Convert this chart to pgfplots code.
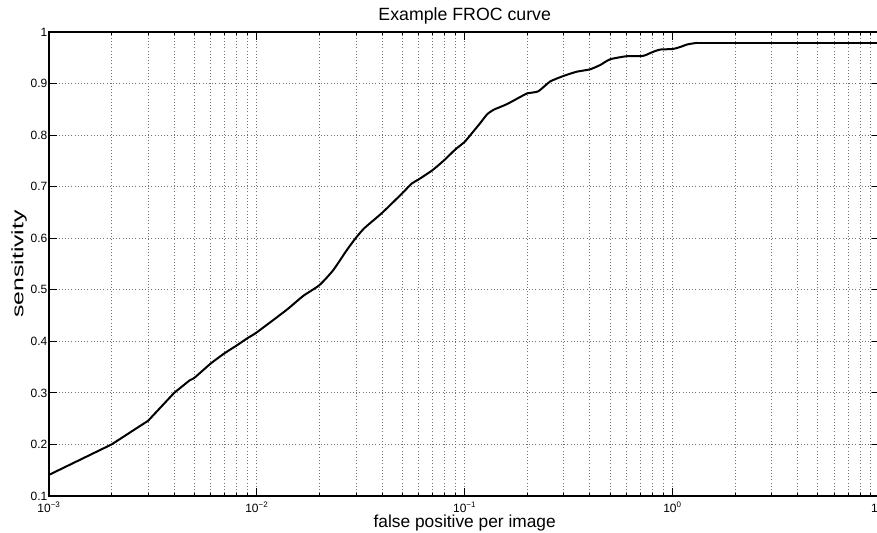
\documentclass[border=0pt]{standalone}
\usepackage{fontspec}
\setmainfont{Liberation Sans}
\usepackage{pgfplots}
\pgfplotsset{compat=1.18}
\begin{document}
\begin{tikzpicture}
\useasboundingbox (-36.75pt,-27pt) rectangle (621pt,372pt);
\clip (-36.75pt,-27pt) rectangle (621pt,372pt);
\begin{axis}[
  at={(0pt,0pt)}, anchor=south west,
  scale only axis, width=623.55pt, height=348pt,
  xmode=log, log basis x=10,
  xmin=1e-3, xmax=10, ymin=0.1, ymax=1,
  xtick={1e-3,1e-2,1e-1,1,10},
  xticklabels={10\textsuperscript{\char"2212 3},10\textsuperscript{\char"2212 2},10\textsuperscript{\char"2212 1},10\textsuperscript{0},10\textsuperscript{1}},
  minor xtick={2e-3,3e-3,4e-3,5e-3,6e-3,7e-3,8e-3,9e-3,
               2e-2,3e-2,4e-2,5e-2,6e-2,7e-2,8e-2,9e-2,
               2e-1,3e-1,4e-1,5e-1,6e-1,7e-1,8e-1,9e-1,
               2,3,4,5,6,7,8,9},
  ytick={0.1,0.2,0.3,0.4,0.5,0.6,0.7,0.8,0.9,1},
  xmajorgrids=true, xminorgrids=true, ymajorgrids=true,
  major grid style={dotted, black!55, line width=0.6pt},
  minor grid style={dotted, black!55, line width=0.6pt},
  tick style={black, line width=0.6pt},
  major tick length=6pt, minor tick length=2.5pt,
  tick align=inside,
  axis line style={black, line width=1.3pt},
  xticklabel style={font=\fontsize{9pt}{10pt}\selectfont, anchor=base, yshift=-12.5pt},
  yticklabel style={font=\fontsize{9pt}{10pt}\selectfont, anchor=east, inner xsep=1pt,
    /pgf/number format/fixed, /pgf/number format/precision=1,
    /pgf/number format/assume math mode=true},
  title={Example FROC curve},
  every axis title/.style={at={(axis description cs:0.5,1.0244)}, anchor=base,
    font=\fontsize{13.3pt}{15pt}\selectfont},
  xlabel={false positive per image},
  every axis x label/.style={at={(axis description cs:0.5,-0.0685)}, anchor=base,
    font=\fontsize{13pt}{15pt}\selectfont},
  ylabel={\scalebox{1.5}[1]{\fontsize{12.4pt}{14pt}\selectfont sensitivity}},
  every axis y label/.style={at={(axis description cs:-0.0361,0.5)}, anchor=center, rotate=90},
]
\addplot[black, line width=1.5pt, mark=none, line join=round] coordinates {
(0.001,0.141) (0.002,0.200) (0.003,0.246) (0.004,0.300) (0.00477,0.325)
};
\addplot[black, line width=1.5pt, mark=none, line join=round, smooth, tension=0.35] coordinates {
(0.00477,0.325)
(0.005,0.329) (0.006,0.357) (0.007,0.377) (0.008,0.392) (0.009,0.406)
(0.010,0.4175) (0.0139,0.461) (0.0167,0.488) (0.020,0.509) (0.0233,0.538)
(0.0271,0.577) (0.0300,0.601) (0.0330,0.620) (0.040,0.649) (0.050,0.687)
(0.0556,0.706) (0.060,0.714) (0.070,0.732) (0.080,0.752) (0.090,0.772)
(0.100,0.787) (0.110,0.807) (0.1186,0.823) (0.128,0.840) (0.1375,0.849)
(0.1595,0.860) (0.185,0.874) (0.200,0.881) (0.226,0.885) (0.2577,0.904)
(0.300,0.915) (0.346,0.923) (0.400,0.9275) (0.449,0.936) (0.500,0.947)
(0.600,0.953) (0.700,0.953) (0.740,0.955) (0.800,0.961) (0.873,0.966)
(1.000,0.967) (1.090,0.971) (1.180,0.976) (1.310,0.979)
};
\addplot[black, line width=1.5pt, mark=none] coordinates {(1.310,0.979) (10,0.979)};
\end{axis}
\end{tikzpicture}
\end{document}
